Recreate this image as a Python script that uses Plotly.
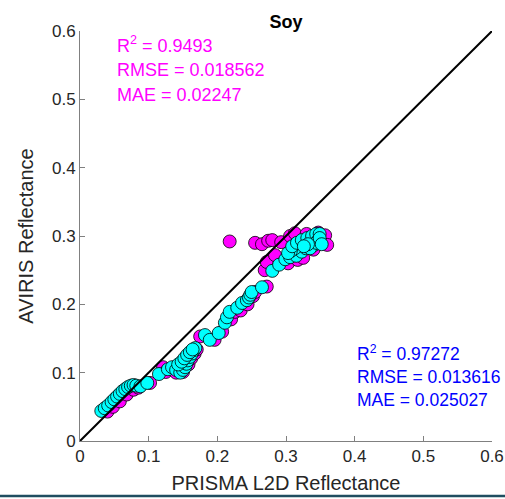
import plotly.graph_objects as go

# Cyan series (PRISMA vs AVIRIS)
cyan_x = [0.031, 0.036, 0.041, 0.046, 0.050, 0.054, 0.058, 0.062, 0.066, 0.070,
          0.074, 0.078, 0.082, 0.088, 0.098, 0.115, 0.128, 0.134, 0.140, 0.146,
          0.150, 0.153, 0.155, 0.157, 0.160, 0.163, 0.166, 0.168, 0.143, 0.148,
          0.152, 0.156, 0.160, 0.164,
          0.182, 0.189, 0.202, 0.211, 0.214, 0.218, 0.229, 0.236, 0.243, 0.246,
          0.248, 0.250, 0.265,
          0.280, 0.290, 0.299, 0.306, 0.315, 0.323, 0.329, 0.320, 0.313, 0.307,
          0.303, 0.309, 0.316, 0.323, 0.331, 0.338, 0.344, 0.349, 0.347, 0.341,
          0.335, 0.344, 0.349, 0.352, 0.332, 0.326]
cyan_y = [0.044, 0.048, 0.052, 0.057, 0.061, 0.065, 0.069, 0.073, 0.076, 0.079,
          0.081, 0.082, 0.081, 0.080, 0.085, 0.098, 0.105, 0.108, 0.104, 0.100,
          0.104, 0.108, 0.113, 0.118, 0.123, 0.128, 0.133, 0.136, 0.112, 0.116,
          0.121, 0.126, 0.130, 0.134,
          0.155, 0.148, 0.158, 0.173, 0.181, 0.189, 0.195, 0.202, 0.206, 0.210,
          0.214, 0.218, 0.225,
          0.249, 0.258, 0.266, 0.269, 0.271, 0.277, 0.282, 0.287, 0.282, 0.278,
          0.275, 0.285, 0.290, 0.294, 0.297, 0.300, 0.303, 0.303, 0.294, 0.287,
          0.282, 0.290, 0.297, 0.288, 0.288, 0.285]

# Magenta series
mag_x = [0.040, 0.048, 0.058, 0.068, 0.078, 0.085, 0.102, 0.121, 0.125, 0.140,
         0.150, 0.158, 0.162, 0.167, 0.170, 0.175, 0.196, 0.207, 0.220, 0.226,
         0.234, 0.244, 0.252, 0.255, 0.272, 0.218, 0.255, 0.265, 0.274, 0.280,
         0.293, 0.306, 0.313, 0.330, 0.347, 0.357, 0.360, 0.269, 0.272, 0.284,
         0.303, 0.317, 0.325, 0.340, 0.350, 0.338]
mag_y = [0.043, 0.050, 0.058, 0.068, 0.075, 0.078, 0.085, 0.108, 0.101, 0.100,
         0.101, 0.112, 0.121, 0.128, 0.134, 0.153, 0.148, 0.160, 0.178, 0.189,
         0.191, 0.200, 0.212, 0.218, 0.226, 0.292, 0.290, 0.288, 0.293, 0.294,
         0.291, 0.300, 0.304, 0.303, 0.305, 0.301, 0.287, 0.250, 0.262, 0.272,
         0.260, 0.265, 0.268, 0.280, 0.290, 0.295]

line_xy = [0, 0.6]
ticks = [0, 0.1, 0.2, 0.3, 0.4, 0.5, 0.6]
tick_text = ["0", "0.1", "0.2", "0.3", "0.4", "0.5", "0.6"]

mag_stats = ["R<sup>2</sup> = 0.9493", "RMSE = 0.018562", "MAE = 0.02247"]
blue_stats = ["R<sup>2</sup> = 0.97272", "RMSE = 0.013616", "MAE = 0.025027"]

FONT = "Liberation Sans, Arial, sans-serif"

fig = go.Figure()
fig.add_trace(go.Scatter(x=mag_x, y=mag_y, mode="markers",
                         marker=dict(size=13, color="#FF00FF",
                                     line=dict(color="black", width=0.8)),
                         showlegend=False, cliponaxis=False))
fig.add_trace(go.Scatter(x=cyan_x, y=cyan_y, mode="markers",
                         marker=dict(size=13, color="#00FFFF",
                                     line=dict(color="black", width=0.8)),
                         showlegend=False, cliponaxis=False))
fig.add_trace(go.Scatter(x=line_xy, y=line_xy, mode="lines",
                         line=dict(color="black", width=2),
                         showlegend=False))

mag_y_pos = [0.580, 0.543, 0.507]
for t, yy in zip(mag_stats, mag_y_pos):
    fig.add_annotation(x=0.051, y=yy, xref="x", yref="y", text=t, showarrow=False,
                       xanchor="left", yanchor="middle",
                       font=dict(family=FONT, size=18, color="#FF00FF"))
blue_y_pos = [0.129, 0.093, 0.060]
for t, yy in zip(blue_stats, blue_y_pos):
    fig.add_annotation(x=0.400, y=yy, xref="x", yref="y", text=t, showarrow=False,
                       xanchor="left", yanchor="middle",
                       font=dict(family=FONT, size=17.5, color="#0000FF"))

fig.add_shape(type="line", xref="paper", yref="paper",
              x0=-0.2, x1=1.05, y0=-0.134, y1=-0.134,
              line=dict(color="#1f4e60", width=2.5))

axis_common = dict(range=[0, 0.6], tickvals=ticks, ticktext=tick_text,
                   ticks="inside", ticklen=5, tickcolor="#808080",
                   showline=True, linecolor="#808080", linewidth=1,
                   showgrid=False, zeroline=False, automargin=False,
                   tickfont=dict(family=FONT, size=17, color="#262626"))

fig.update_layout(
    width=505, height=499,
    margin=dict(l=80, r=13, t=31, b=58, autoexpand=False),
    paper_bgcolor="white", plot_bgcolor="white",
    title=dict(text="<b>Soy</b>", x=286/505, xanchor="center",
               y=1 - 22/499, yanchor="middle", automargin=False,
               font=dict(family=FONT, size=18, color="black")),
    xaxis=dict(**axis_common,
               title=dict(text="PRISMA L2D Reflectance", standoff=10,
                          font=dict(family=FONT, size=20, color="#262626"))),
    yaxis=dict(**axis_common,
               title=dict(text="AVIRIS Reflectance", standoff=12,
                          font=dict(family=FONT, size=20, color="#262626"))),
)

fig.write_html(
    "out.html",
    config={"displayModeBar": False},
    post_script="document.body.style.margin='0';document.body.style.overflow='hidden';",
)
